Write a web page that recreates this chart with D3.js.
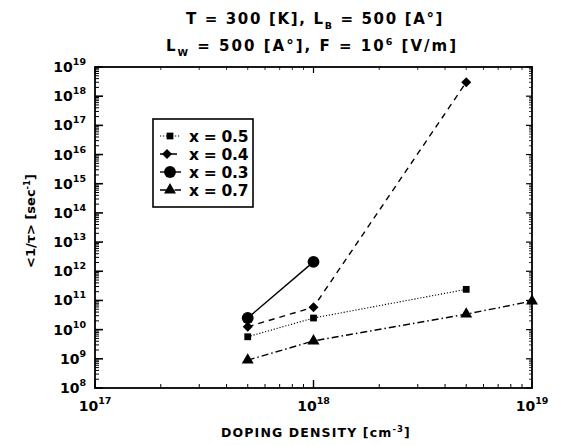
<!DOCTYPE html>
<html>
<head>
<meta charset="utf-8">
<script src="https://cdn.jsdelivr.net/npm/d3@7"></script>
<style>
  html, body { margin: 0; padding: 0; background: #fff; }
  svg text { font-family: "DejaVu Sans", Verdana, sans-serif; font-weight: bold; fill: #000; }
</style>
</head>
<body>
<svg id="chart" width="562" height="445"></svg>
<script>
// Doping densities (cm^-3) and mean scattering rates <1/tau> (sec^-1)
const dopingX05 = [5e17, 1e18, 5e18];
const rateX05   = [5.7e9, 2.5e10, 2.4e11];
const dopingX04 = [5e17, 1e18, 5e18];
const rateX04   = [1.25e10, 5.9e10, 3.0e18];
const dopingX03 = [5e17, 1e18];
const rateX03   = [2.5e10, 2.1e12];
const dopingX07 = [5e17, 1e18, 5e18, 1e19];
const rateX07   = [9e8, 4.1e9, 3.4e10, 9.5e10];

const seriesNames = ["x = 0.5", "x = 0.4", "x = 0.3", "x = 0.7"];
const xTickExps = [17, 18, 19];
const yTickExps = [8, 9, 10, 11, 12, 13, 14, 15, 16, 17, 18, 19];

const series = [
  { name: seriesNames[0], xs: dopingX05, ys: rateX05, dash: "1.2,1.8", width: 1.1, marker: "square" },
  { name: seriesNames[1], xs: dopingX04, ys: rateX04, dash: "6,5", width: 1.4, marker: "diamond" },
  { name: seriesNames[2], xs: dopingX03, ys: rateX03, dash: null, width: 1.4, marker: "circle" },
  { name: seriesNames[3], xs: dopingX07, ys: rateX07, dash: "7,3,1.5,3", width: 1.4, marker: "triangle" }
];

const svg = d3.select("#chart");
const margin = { left: 95, right: 30, top: 67, bottom: 57 };
const W = 562, H = 445;
const x = d3.scaleLog().domain([1e17, 1e19]).range([margin.left, W - margin.right]);
const y = d3.scaleLog().domain([1e8, 1e19]).range([H - margin.bottom, margin.top]);

// Spread the glyphs of a label so that it spans the given width (wide lettering)
function spread(textSel, width) {
  const node = textSel.node();
  const n = node.textContent.length;
  const w = node.getComputedTextLength();
  const ls = Math.max(0, (width - w) / n);
  textSel.attr("letter-spacing", ls.toFixed(2));
  return textSel;
}

// Title
const title = svg.append("g").attr("font-size", 15);
const t1 = title.append("text").attr("x", 315).attr("y", 24).attr("text-anchor", "middle");
t1.append("tspan").text("T = 300 [K], L");
t1.append("tspan").attr("font-size", 9.5).attr("dy", 5).text("B");
t1.append("tspan").attr("dy", -5).text(" = 500 [A°]");
spread(t1, 258);
const t2 = title.append("text").attr("x", 312).attr("y", 51).attr("text-anchor", "middle");
t2.append("tspan").text("L");
t2.append("tspan").attr("font-size", 9.5).attr("dy", 5).text("W");
t2.append("tspan").attr("dy", -5).text(" = 500 [A°], F = 10");
t2.append("tspan").attr("font-size", 9.5).attr("dy", -6).text("6");
t2.append("tspan").attr("dy", 6).text(" [V/m]");
spread(t2, 292);

// Axes with inward ticks (majors longer, minors at 2..9 per decade)
const xMinor = [];
for (let e = 17; e < 19; e++) for (let m = 2; m <= 9; m++) xMinor.push(m * Math.pow(10, e));
const yMinor = [];
for (let e = 8; e < 19; e++) for (let m = 2; m <= 9; m++) yMinor.push(m * Math.pow(10, e));
const xMajor = xTickExps.map(e => Math.pow(10, e));
const yMajor = yTickExps.map(e => Math.pow(10, e));

const axisG = svg.append("g").attr("stroke", "#000");
const x0 = x.range()[0], x1 = x.range()[1], y0 = y.range()[0], y1 = y.range()[1];

function tickLines(vals, len, horizontal, base, dir, sw) {
  axisG.selectAll(null).data(vals).enter().append("line")
    .attr("x1", d => horizontal ? x(d) : base)
    .attr("x2", d => horizontal ? x(d) : base + dir * len)
    .attr("y1", d => horizontal ? base : y(d))
    .attr("y2", d => horizontal ? base + dir * len : y(d))
    .attr("stroke-width", sw);
}
tickLines(yMajor, 8, false, x0, 1, 1.6);
tickLines(yMinor, 4, false, x0, 1, 1);
tickLines(yMajor, 6, false, x1, -1, 1.2);
tickLines(yMinor, 3, false, x1, -1, 0.8);
tickLines(xMajor, 8, true, y0, -1, 1.4);
tickLines(xMinor, 4, true, y0, -1, 1);
tickLines(xMajor, 6, true, y1, 1, 1.2);
tickLines(xMinor, 3, true, y1, 1, 0.8);

axisG.append("rect")
  .attr("x", x0).attr("y", y1).attr("width", x1 - x0).attr("height", y0 - y1)
  .attr("fill", "none").attr("stroke-width", 1.8);

// Tick labels as 10^n
const tickLab = svg.append("g").attr("font-size", 14);
yTickExps.forEach(e => {
  const t = tickLab.append("text").attr("x", 86).attr("y", y(Math.pow(10, e)) + 5).attr("text-anchor", "end");
  t.append("tspan").text("10");
  t.append("tspan").attr("font-size", 9.5).attr("dy", -7).text(e);
});
xTickExps.forEach(e => {
  const t = tickLab.append("text").attr("x", x(Math.pow(10, e))).attr("y", 411).attr("text-anchor", "middle");
  t.append("tspan").text("10");
  t.append("tspan").attr("font-size", 9.5).attr("dy", -7).text(e);
});

// Axis titles
const xt = svg.append("text").attr("x", 316).attr("y", 437).attr("text-anchor", "middle").attr("font-size", 12.5);
xt.append("tspan").text("DOPING DENSITY [cm");
xt.append("tspan").attr("font-size", 8.5).attr("dy", -5).text("-3");
xt.append("tspan").attr("dy", 5).text("]");
spread(xt, 190);

const yt = svg.append("text").attr("transform", "translate(35,221) rotate(-90)")
  .attr("text-anchor", "middle").attr("font-size", 13);
yt.append("tspan").text("<1/τ> [sec");
yt.append("tspan").attr("font-size", 8.5).attr("dy", -5).text("-1");
yt.append("tspan").attr("dy", 5).text("]");

// Markers
const symbolFor = {
  square: { gen: d3.symbol().type(d3.symbolSquare).size(46), rot: 0 },
  diamond: { gen: d3.symbol().type(d3.symbolSquare).size(50), rot: 45 },
  circle: { gen: d3.symbol().type(d3.symbolCircle).size(110), rot: 0 },
  triangle: { gen: d3.symbol().type(d3.symbolTriangle).size(62), rot: 0 }
};

const line = d3.line().x(d => x(d[0])).y(d => y(d[1]));
const plot = svg.append("g");
series.forEach(s => {
  const pts = s.xs.map((v, i) => [v, s.ys[i]]);
  const sym = symbolFor[s.marker];
  plot.append("path").datum(pts).attr("d", line)
    .attr("fill", "none").attr("stroke", "#000").attr("stroke-width", s.width)
    .attr("stroke-dasharray", s.dash);
  plot.selectAll(null).data(pts).enter().append("path")
    .attr("d", sym.gen())
    .attr("transform", d => `translate(${x(d[0])},${y(d[1])}) rotate(${sym.rot})`)
    .attr("fill", "#000");
});

// Legend
const leg = svg.append("g");
leg.append("rect").attr("x", 153).attr("y", 119).attr("width", 100).attr("height", 88)
  .attr("fill", "#fff").attr("stroke", "#000").attr("stroke-width", 1.6);
const legY = d3.scalePoint().domain(seriesNames).range([136, 190]);
series.forEach(s => {
  const yy = legY(s.name);
  const sym = symbolFor[s.marker];
  leg.append("line").attr("x1", 160).attr("x2", 181).attr("y1", yy).attr("y2", yy)
    .attr("stroke", "#000").attr("stroke-width", s.width).attr("stroke-dasharray", s.dash);
  leg.append("path").attr("d", sym.gen())
    .attr("transform", `translate(${s.marker === "diamond" ? 167 : 170},${yy}) rotate(${sym.rot})`)
    .attr("fill", "#000");
  leg.append("text").attr("x", 189).attr("y", yy + 5.5).attr("font-size", 15.5)
    .attr("letter-spacing", -0.3).text(s.name);
});
</script>
</body>
</html>
